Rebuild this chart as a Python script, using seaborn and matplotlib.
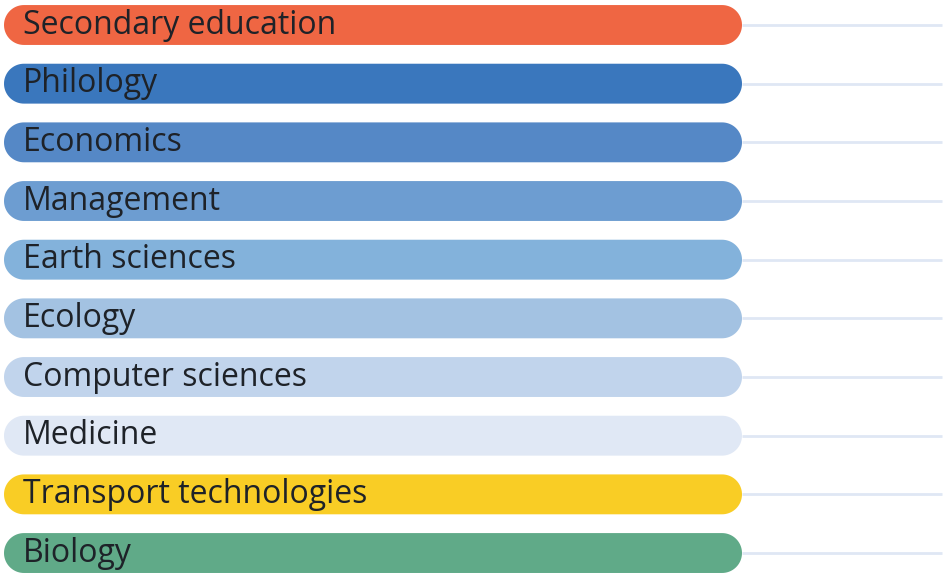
import matplotlib
matplotlib.use("Agg")
import matplotlib.pyplot as plt
from matplotlib.patches import Polygon
import numpy as np
import pandas as pd
import seaborn as sns

categories = ["Secondary education", "Philology", "Economics", "Management",
              "Earth sciences", "Ecology", "Computer sciences", "Medicine",
              "Transport technologies", "Biology"]
values = [100, 100, 100, 100, 100, 100, 100, 100, 100, 100]
colors = ["#ef6643", "#3a77bd", "#5588c6", "#6d9dd1", "#83b2db",
          "#a3c2e2", "#c1d4ec", "#e0e8f5", "#f9cd25", "#60aa88"]

df = pd.DataFrame({"category": categories, "value": values})

sns.set_theme(style="white")
plt.rcParams["font.family"] = ["Open Sans", "DejaVu Sans"]

fig = plt.figure(figsize=(9.45, 5.74), dpi=100)
ax = fig.add_axes([0, 0, 1, 1])

sns.barplot(data=df, x="value", y="category", hue="category",
            palette=dict(zip(categories, colors)), orient="h",
            width=0.68, saturation=1, legend=False, ax=ax)

# pixel geometry
px_x = 7.38          # px per x unit
px_y = 58.67         # px per category step
ax.set_xlim(-4 / px_x, (945 - 4) / px_x)
ax.set_ylim((574 - 25) / px_y, -25 / px_y)

# swap flat bars for pill shapes (half-circle ends)
t = np.linspace(-np.pi / 2, np.pi / 2, 40)
for p in list(ax.patches):
    x0, y0 = p.get_x(), p.get_y()
    w, h = p.get_width(), p.get_height()
    fc = p.get_facecolor()
    p.remove()
    ry = h / 2
    rx = ry * px_y / px_x
    yc = y0 + ry
    right = np.column_stack([x0 + w - rx + rx * np.cos(t), yc + ry * np.sin(t)])
    left = np.column_stack([x0 + rx - rx * np.cos(t), yc - ry * np.sin(t)])
    ax.add_patch(Polygon(np.vstack([right, left]), closed=True,
                         facecolor=fc, edgecolor="none", zorder=2))

for i, (cat, val) in enumerate(zip(categories, values)):
    ax.plot([val, (942 - 4) / px_x], [i, i], color="#dfe7f4", lw=2, zorder=1,
            solid_capstyle="butt")
    ax.text(19 / px_x, i, cat, va="center", ha="left", fontsize=23,
            color="#1e2228", zorder=3)

ax.set_axis_off()
fig.savefig("out.png", dpi=100)
